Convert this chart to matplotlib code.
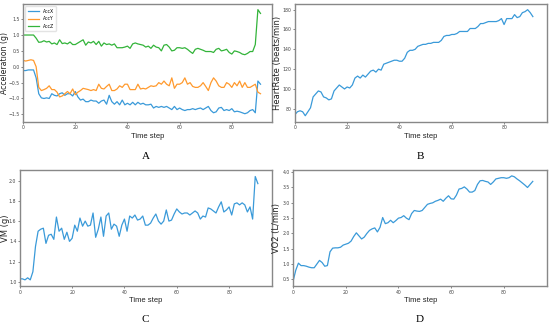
import numpy as np
import matplotlib.pyplot as plt

# time steps 0..91
steps = np.arange(92)

acc_x = [-0.12, -0.12, -0.1, -0.1, -0.1, -0.35, -0.85, -0.98, -1.0, -0.98,
         -1.0, -0.85, -0.9, -0.92, -0.85, -0.82, -0.9, -0.85, -0.85, -0.92,
         -0.78, -0.95, -1.05, -1.02, -1.1, -1.1, -1.05, -1.08, -1.08, -1.15,
         -1.08, -1.05, -1.18, -0.9, -1.1, -1.18, -1.1, -1.2, -1.05, -1.2,
         -1.15, -1.2, -1.12, -1.2, -1.12, -1.18, -1.15, -1.2, -1.2, -1.18,
         -1.3, -1.25, -1.28, -1.25, -1.28, -1.25, -1.3, -1.35, -1.25, -1.35,
         -1.3, -1.35, -1.38, -1.35, -1.35, -1.32, -1.35, -1.32, -1.3, -1.35,
         -1.3, -1.25, -1.38, -1.45, -1.42, -1.3, -1.28, -1.38, -1.35, -1.38,
         -1.32, -1.42, -1.4, -1.42, -1.45, -1.48, -1.45, -1.38, -1.35, -1.45,
         -0.45, -0.55]
acc_y = [0.2, 0.18, 0.2, 0.22, 0.2, 0.0, -0.65, -0.75, -0.72, -0.68,
         -0.6, -0.72, -0.72, -0.8, -0.95, -0.92, -0.85, -0.78, -0.85, -0.7,
         -0.88, -0.8, -0.75, -0.68, -0.7, -0.72, -0.75, -0.72, -0.75, -0.55,
         -0.68, -0.7, -0.62, -0.55, -0.75, -0.75, -0.7, -0.6, -0.65, -0.55,
         -0.55, -0.72, -0.72, -0.72, -0.55, -0.7, -0.68, -0.7, -0.65, -0.6,
         -0.62, -0.6, -0.5, -0.55, -0.45, -0.55, -0.6, -0.35, -0.68, -0.55,
         -0.55, -0.5, -0.35, -0.55, -0.5, -0.62, -0.65, -0.65, -0.6, -0.5,
         -0.62, -0.75, -0.5, -0.35, -0.45, -0.6, -0.65, -0.65, -0.5, -0.55,
         -0.65, -0.5, -0.6, -0.45, -0.65, -0.5, -0.65, -0.65, -0.6, -0.55,
         -0.8, -0.85]
acc_z = [1.0, 1.0, 1.0, 1.0, 1.0, 0.9, 0.77, 0.78, 0.82, 0.78,
         0.8, 0.72, 0.75, 0.7, 0.85, 0.73, 0.75, 0.72, 0.78, 0.7,
         0.7, 0.75, 0.8, 0.85, 0.68, 0.78, 0.75, 0.8, 0.7, 0.8,
         0.65, 0.75, 0.7, 0.72, 0.68, 0.72, 0.6, 0.6, 0.6, 0.62,
         0.65, 0.58, 0.72, 0.75, 0.72, 0.7, 0.68, 0.62, 0.65, 0.58,
         0.68, 0.62, 0.6, 0.5, 0.68, 0.7, 0.62, 0.5, 0.52, 0.6,
         0.6, 0.58, 0.6, 0.55, 0.48, 0.42, 0.55, 0.58, 0.55, 0.52,
         0.48, 0.48, 0.48, 0.45, 0.55, 0.58, 0.5, 0.52, 0.55, 0.45,
         0.4, 0.5, 0.48, 0.45, 0.4, 0.38, 0.42, 0.48, 0.48, 0.7,
         1.8, 1.68]

heart_rate = [74, 77, 78, 77, 73, 77, 81, 92, 95, 98,
              97, 92, 91, 89, 90, 98, 101, 104, 102, 100,
              102, 101, 104, 111, 113, 111, 114, 112, 115, 118,
              119, 117, 120, 119, 125, 126, 127, 128, 129, 129,
              128, 128, 131, 137, 139, 139, 140, 143, 144, 145,
              145, 146, 146, 147, 147, 147, 149, 153, 154, 154,
              155, 155, 156, 158, 158, 158, 158, 161, 161, 161,
              163, 166, 166, 167, 168, 168, 168, 168, 169, 171,
              165, 171, 171, 171, 175, 172, 173, 177, 178, 180,
              177, 173]

vm = [1.03, 1.03, 1.02, 1.04, 1.02, 1.1, 1.35, 1.5, 1.52, 1.53,
      1.38, 1.46, 1.47, 1.42, 1.64, 1.5, 1.53, 1.42, 1.49, 1.4,
      1.43, 1.56, 1.5, 1.63, 1.55, 1.6, 1.55, 1.56, 1.68, 1.44,
      1.52, 1.64, 1.45, 1.65, 1.68, 1.52, 1.57, 1.55, 1.45, 1.56,
      1.62, 1.5, 1.65, 1.63, 1.66, 1.61, 1.62, 1.65, 1.56, 1.56,
      1.58, 1.63, 1.67, 1.6, 1.57, 1.6, 1.71, 1.6, 1.61, 1.67,
      1.72, 1.69, 1.67, 1.68, 1.68, 1.66, 1.68, 1.7, 1.68, 1.62,
      1.65, 1.64, 1.73, 1.72, 1.7, 1.68, 1.74, 1.79, 1.69, 1.71,
      1.74, 1.66, 1.77, 1.78, 1.76, 1.78, 1.76, 1.69, 1.74, 1.62,
      2.04, 1.97]

vo2 = [0.45, 0.8, 1.03, 0.95, 0.95, 0.93, 0.9, 0.88, 0.88, 1.0,
       1.12, 1.05, 0.93, 0.95, 1.4, 1.52, 1.53, 1.53, 1.55, 1.62,
       1.65, 1.68, 1.75, 1.9, 2.02, 1.92, 1.82, 1.88, 2.0, 2.1,
       2.15, 2.18, 2.05, 2.2, 2.52, 2.32, 2.35, 2.43, 2.35, 2.42,
       2.5, 2.52, 2.58, 2.5, 2.45, 2.65, 2.75, 2.73, 2.72, 2.75,
       2.85, 2.95, 2.98, 3.0, 3.05, 3.08, 3.12, 3.05, 3.15, 3.23,
       3.13, 3.12, 3.25, 3.45, 3.47, 3.52, 3.45, 3.35, 3.35, 3.4,
       3.6, 3.72, 3.73, 3.7, 3.68, 3.6, 3.68, 3.78, 3.8, 3.82,
       3.82, 3.8, 3.82, 3.88, 3.85, 3.78, 3.72, 3.65, 3.58, 3.5,
       3.6, 3.7]

blue = '#3a9ad9'
orange = '#ff9a2e'
green = '#33b43a'

fig = plt.figure(figsize=(5.5, 3.27), dpi=100)

def style(ax, ylabel, ylab_x, xlim, ylim, yticks, ylab_size=6.0):
    ax.set_xlim(*xlim)
    ax.set_ylim(*ylim)
    ax.set_xticks([0, 20, 40, 60, 80])
    ax.set_yticks(yticks)
    ax.tick_params(labelsize=3.3, length=1.5, width=0.5, pad=1,
                   colors='#555555', labelcolor='#444444')
    for s in ax.spines.values():
        s.set_color('#888888')
        s.set_linewidth(1.0)
    ax.set_xlabel('Time step', fontsize=5.5, family='Liberation Sans', color='#222222')
    ax.xaxis.set_label_coords(0.5, -0.09)
    ax.set_ylabel(ylabel, fontsize=ylab_size, color='#222222')
    ax.yaxis.set_label_coords(ylab_x, 0.5)

# A
axA = fig.add_axes([0.042, 0.627, 0.453, 0.361])
axA.plot(steps, acc_x, color=blue, lw=0.9, label='AccX')
axA.plot(steps, acc_y, color=orange, lw=0.9, label='AccY')
axA.plot(steps, acc_z, color=green, lw=0.9, label='AccZ')
style(axA, 'Acceleration (g)', -0.055, (0, 95.5), (-1.74, 1.98),
      [-1.5, -1.0, -0.5, 0.0, 0.5, 1.0, 1.5], ylab_size=5.6)
axA.legend(loc='upper left', fontsize=3.3, frameon=True, handlelength=2.5,
           borderpad=0.5, labelspacing=0.6, edgecolor='#dddddd')

# B
axB = fig.add_axes([0.536, 0.627, 0.459, 0.361])
axB.plot(steps, heart_rate, color=blue, lw=0.9)
style(axB, 'HeartRate (beats/min)', -0.05, (0, 96.5), (66.7, 185.8),
      [80, 100, 120, 140, 160, 180])

# C
axC = fig.add_axes([0.036, 0.125, 0.459, 0.355])
axC.plot(steps, vm, color=blue, lw=0.9)
style(axC, 'VM (g)', -0.04, (0, 96.5), (0.958, 2.104),
      [1.0, 1.2, 1.4, 1.6, 1.8, 2.0])

# D
axD = fig.add_axes([0.533, 0.125, 0.462, 0.355])
axD.plot(steps, vo2, color=blue, lw=0.9)
style(axD, 'VO2 (L/min)', -0.046, (0, 96.5), (0.28, 4.07),
      [0.5, 1.0, 1.5, 2.0, 2.5, 3.0, 3.5, 4.0])

# panel letters
for x, y, letter in [(0.265, 0.514, 'A'), (0.765, 0.514, 'B'),
                     (0.264, 0.015, 'C'), (0.764, 0.015, 'D')]:
    fig.text(x, y, letter, fontsize=8, family='Liberation Serif',
             ha='center', va='baseline')

fig.savefig('out.png', dpi=100, facecolor='white')
